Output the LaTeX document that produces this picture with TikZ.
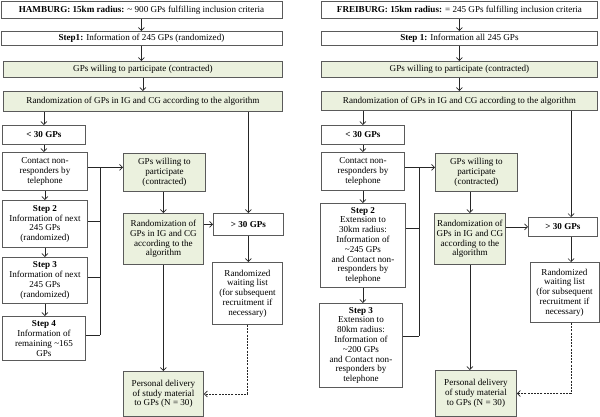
\documentclass[tikz,border=0pt]{standalone}
\usepackage{fontspec}
\setmainfont{Liberation Serif}
\usetikzlibrary{arrows.meta}
\definecolor{boxgreen}{HTML}{EBF1DE}
\definecolor{edgegray}{HTML}{5A5A5A}
\begin{document}
\begin{tikzpicture}[x=1pt,y=-1pt,
  bx/.style={draw=edgegray, line width=0.9pt, anchor=north west, inner sep=1pt, align=center, font=\fontsize{9.1}{9.8}\selectfont},
  gbx/.style={bx, fill=boxgreen},
  arr/.style={draw=black!85, line width=0.7pt, -{Straight Barb[length=3pt,width=6pt]}},
  ln/.style={draw=black!85, line width=0.7pt},
  dashln/.style={draw=black!85, line width=0.7pt, dash pattern=on 2pt off 1.2pt, -{Straight Barb[length=3pt,width=6pt]}}]
\fill[white] (0,0) rectangle (600,417);
\useasboundingbox (0,0) rectangle (600,417);

% ---------------- HAMBURG ----------------
\node[bx, minimum width=281pt, minimum height=17pt] (h1) at (0.5,1) {\textbf{HAMBURG: 15km radius:} \textasciitilde{} 900 GPs fulfilling inclusion criteria};
\node[bx, minimum width=281pt, minimum height=14pt] (h2) at (0.5,31) {\textbf{Step1:} Information of 245 GPs (randomized)};
\node[gbx, minimum width=279pt, minimum height=16pt] (h3) at (3,61) {GPs willing to participate (contracted)};
\node[gbx, minimum width=279pt, minimum height=20pt] (h4) at (3,91) {Randomization of GPs in IG and CG according to the algorithm};
\node[bx, minimum width=83pt, minimum height=19pt] (hlt) at (2,125) {\textbf{< 30 GPs}};
\node[bx, minimum width=85pt, minimum height=38pt] (hc) at (2,152) {Contact non-\\responders by\\telephone};
\node[bx, minimum width=85pt, minimum height=47pt] (hs2) at (2,200) {\textbf{Step 2}\\Information of next\\245 GPs\\(randomized)};
\node[bx, minimum width=85pt, minimum height=46pt] (hs3) at (2,257) {\textbf{Step 3}\\Information of next\\245 GPs\\(randomized)};
\node[bx, minimum width=83pt, minimum height=44pt] (hs4) at (2,316) {\textbf{Step 4}\\Information of\\remaining \textasciitilde165\\GPs};
\node[gbx, minimum width=82pt, minimum height=38pt] (hw) at (123,153) {GPs willing to\\participate\\(contracted)};
\node[gbx, minimum width=80pt, minimum height=51pt] (hr) at (123,213) {Randomization of\\GPs in IG and CG\\according to the\\algorithm};
\node[bx, minimum width=70pt, minimum height=22pt] (hgt) at (213,213) {\textbf{> 30 GPs}};
\node[bx, minimum width=70pt, minimum height=62pt] (hwl) at (212,262) {Randomized\\waiting list\\(for subsequent\\recruitment if\\necessary)};
\node[gbx, minimum width=80pt, minimum height=45pt] (hp) at (123,371) {Personal delivery\\of study material\\to GPs (N = 30)};

\draw[arr] (h1) -- (h2);
\draw[arr] (h2.south) -- (h2.south |- h3.north);
\draw[arr] (h3.south) -- (h3.south |- h4.north);
\draw[arr] (hlt.north |- h4.south) -- (hlt.north);
\draw[arr] (hgt.north |- h4.south) -- (hgt.north);
\draw[arr] (hlt.south) -- (hlt.south |- hc.north);
\draw[arr] (hc.south) -- (hc.south |- hs2.north);
\draw[arr] (hs2.south) -- (hs2.south |- hs3.north);
\draw[arr] (hs3.south) -- (hs3.south |- hs4.north);
\coordinate (hbus) at (100,0);
\coordinate (hc1) at ([yshift=4pt]hc.east);
\coordinate (hs2e) at ([yshift=2.5pt]hs2.east);
\coordinate (hs3e) at ([yshift=3pt]hs3.east);
\coordinate (hs4e) at ([yshift=3pt]hs4.east);
\draw[arr] (hc1) -- (hc1 -| hw.west);
\draw[ln] (hs2e) -- (hs2e -| hbus);
\draw[ln] (hs3e) -- (hs3e -| hbus);
\draw[ln] (hs4e) -- (hs4e -| hbus);
\draw[ln] (hc1 -| hbus) -- (hs4e -| hbus);
\draw[arr] (hr.north |- hw.south) -- (hr.north);
\draw[arr] (hr.east |- hgt.west) -- (hgt.west);
\draw[arr] (hgt.south) -- (hgt.south |- hwl.north);
\draw[arr] (hr.south) -- (hr.south |- hp.north);
\draw[dashln] (hwl.south) -- (hwl.south |- hp.east) -- (hp.east);

% ---------------- FREIBURG ----------------
\node[bx, minimum width=276pt, minimum height=17pt] (f1) at (321,1) {\textbf{FREIBURG: 15km radius:} = 245 GPs fulfilling inclusion criteria};
\node[bx, minimum width=276pt, minimum height=14pt] (f2) at (321,31) {\textbf{Step 1:} Information all 245 GPs};
\node[gbx, minimum width=276pt, minimum height=16pt] (f3) at (321,61) {GPs willing to participate (contracted)};
\node[gbx, minimum width=276pt, minimum height=19pt] (f4) at (321,91) {Randomization of GPs in IG and CG according to the algorithm};
\node[bx, minimum width=83pt, minimum height=19pt] (flt) at (321,125) {\textbf{< 30 GPs}};
\node[bx, minimum width=83pt, minimum height=38pt] (fc) at (321,152) {Contact non-\\responders by\\telephone};
\node[bx, minimum width=85pt, minimum height=84pt] (fs2) at (320,203) {\textbf{Step 2}\\Extension to\\30km radius:\\Information of\\\textasciitilde245 GPs\\and Contact non-\\responders by\\telephone};
\node[bx, minimum width=83pt, minimum height=84pt] (fs3) at (319,303) {\textbf{Step 3}\\Extension to\\80km radius:\\Information of\\\textasciitilde200 GPs\\and Contact non-\\responders by\\telephone};
\node[gbx, minimum width=82pt, minimum height=38pt] (fw) at (435,153) {GPs willing to\\participate\\(contracted)};
\node[gbx, minimum width=71pt, minimum height=51pt] (fr) at (434,213) {Randomization of\\GPs in IG and CG\\according to the\\algorithm};
\node[bx, minimum width=69pt, minimum height=19pt] (fgt) at (528,217) {\textbf{> 30 GPs}};
\node[bx, minimum width=69pt, minimum height=60pt] (fwl) at (529.5,262) {Randomized\\waiting list\\(for subsequent\\recruitment if\\necessary)};
\node[gbx, minimum width=81pt, minimum height=46pt] (fp) at (435,370) {Personal delivery\\of study material\\to GPs (N = 30)};

\draw[arr] (f1) -- (f2);
\draw[arr] (f2) -- (f3);
\draw[arr] (f3) -- (f4);
\draw[arr] (flt.north |- f4.south) -- (flt.north);
\coordinate (fbx) at (571,0);
\draw[arr] (fbx |- f4.south) -- (fbx |- fgt.north);
\draw[arr] (fbx |- fgt.south) -- (fbx |- fwl.north);
\draw[arr] (flt.south) -- (flt.south |- fc.north);
\draw[arr] (fc.south) -- (fc.south |- fs2.north);
\draw[arr] (fs2.south) -- (fs2.south |- fs3.north);
\coordinate (fbus) at (419,0);
\coordinate (fc1) at ([yshift=4pt]fc.east);
\coordinate (fs2e) at ([yshift=17.5pt]fs2.east);
\coordinate (fs3e) at ([yshift=9pt]fs3.east);
\draw[arr] (fc1) -- (fc1 -| fw.west);
\draw[ln] (fs2e) -- (fs2e -| fbus);
\draw[ln] (fs3e) -- (fs3e -| fbus);
\draw[ln] (fc1 -| fbus) -- (fs3e -| fbus);
\draw[arr] (fr.north |- fw.south) -- (fr.north);
\draw[arr] (fr.east |- fgt.west) -- (fgt.west);
\draw[arr] (fr.south) -- (fr.south |- fp.north);
\draw[dashln] (fbx |- fwl.south) -- (fbx |- fp.east) -- (fp.east);
\end{tikzpicture}
\end{document}
